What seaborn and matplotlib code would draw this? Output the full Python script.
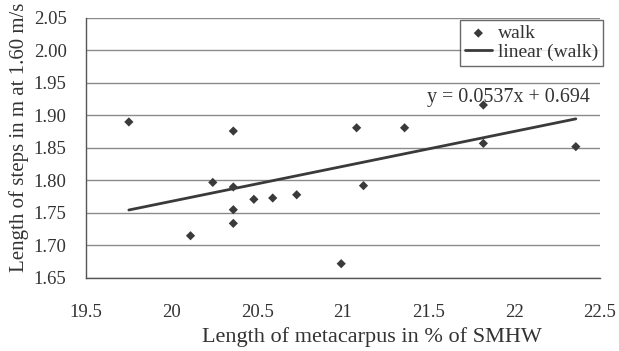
import matplotlib
matplotlib.use("Agg")
import matplotlib.pyplot as plt
import seaborn as sns
import numpy as np
import pandas as pd

# data
metacarpus = [19.75, 20.11, 20.24, 20.36, 20.36, 20.36, 20.36, 20.48, 20.59,
              20.73, 20.99, 21.12, 21.08, 21.36, 21.82, 21.82, 22.36]
step_length = [1.890, 1.715, 1.797, 1.790, 1.755, 1.734, 1.876, 1.771, 1.773,
               1.778, 1.672, 1.792, 1.881, 1.881, 1.916, 1.857, 1.852]
slope = 0.0537
intercept = 0.694
x_ticks = [19.5, 20, 20.5, 21, 21.5, 22, 22.5]
y_ticks = [1.65, 1.70, 1.75, 1.80, 1.85, 1.90, 1.95, 2.00, 2.05]

df = pd.DataFrame({'x': metacarpus, 'y': step_length})
fit_x = np.array([min(metacarpus), max(metacarpus)])
fit = pd.DataFrame({'x': fit_x, 'y': slope * fit_x + intercept})

sns.set_style('white')
plt.rcParams['font.family'] = ['Liberation Serif', 'DejaVu Serif']

fig = plt.figure(figsize=(6.19, 3.51), dpi=100)
ax = fig.add_axes([0.139, 0.208, 0.830, 0.741])

sns.scatterplot(data=df, x='x', y='y', ax=ax, marker='D', s=22,
                color='#3a3a3a', edgecolor='none', label='walk', zorder=3)
sns.lineplot(data=fit, x='x', y='y', ax=ax, color='#3a3a3a', linewidth=2,
             label='linear (walk)', zorder=2)

ax.set_xlim(19.5, 22.5)
ax.set_ylim(1.65, 2.05)
ax.set_xticks(x_ticks)
ax.set_xticklabels([f'{t:g}' for t in x_ticks])
ax.set_yticks(y_ticks)
ax.set_yticklabels([f'{t:.2f}' for t in y_ticks])
ax.yaxis.grid(True, color='#8a8a8a', linewidth=1)
ax.set_axisbelow(True)

sns.despine(ax=ax, top=True, right=True)
for s in ['left', 'bottom']:
    ax.spines[s].set_color('#555555')
    ax.spines[s].set_linewidth(1)
ax.tick_params(axis='both', direction='out', length=6, width=1,
               color='#555555', labelsize=13.5, labelcolor='#333333')
ax.tick_params(axis='x', pad=13)
ax.tick_params(axis='y', pad=8)

ax.set_xlabel('Length of metacarpus in % of SMHW', fontsize=16,
              color='#333333')
ax.set_ylabel('Length of steps in m at 1.60 m/s', fontsize=15,
              color='#333333')
ax.xaxis.set_label_coords(0.556, -0.19)
ax.yaxis.set_label_coords(-0.111, 0.542)

ax.text(22.44, 1.928, f'y = {slope}x + {intercept}', fontsize=14.4,
        color='#333333', ha='right', va='center')

leg = ax.legend(loc='upper right', bbox_to_anchor=(1.006, 0.993), fontsize=14,
                frameon=True, fancybox=False, handlelength=1.4,
                handletextpad=0.3, borderpad=0.25, labelspacing=0.05,
                borderaxespad=0.0)
leg.get_frame().set_edgecolor('#444444')
leg.get_frame().set_linewidth(1)
for t in leg.get_texts():
    t.set_color('#333333')

fig.savefig('out.png', dpi=100)
